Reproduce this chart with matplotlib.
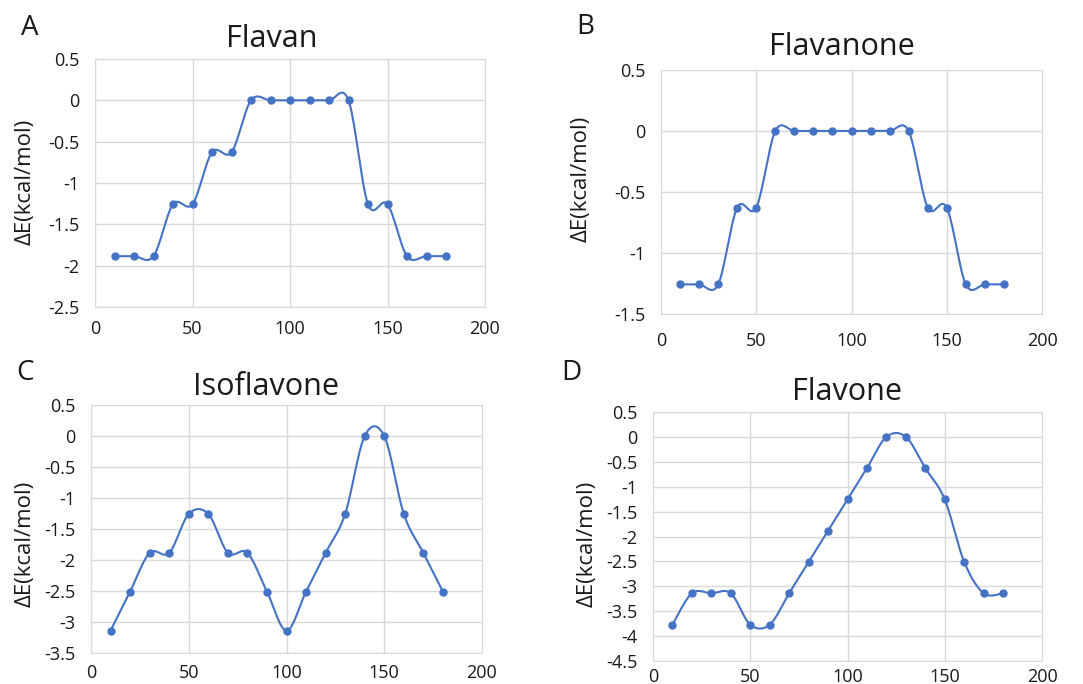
import numpy as np
import matplotlib
matplotlib.use("Agg")
import matplotlib.pyplot as plt
from matplotlib.ticker import FuncFormatter

plt.rcParams["font.family"] = ["Open Sans", "DejaVu Sans"]
plt.rcParams["axes.unicode_minus"] = False

# dihedral angle (deg)
angles = [10, 20, 30, 40, 50, 60, 70, 80, 90, 100, 110, 120, 130, 140, 150, 160, 170, 180]

flavan = [-1.885, -1.885, -1.885, -1.257, -1.257, -0.628, -0.628, 0, 0, 0,
          0, 0, 0, -1.257, -1.257, -1.885, -1.885, -1.885]
flavanone = [-1.257, -1.257, -1.257, -0.628, -0.628, 0, 0, 0, 0, 0,
             0, 0, 0, -0.628, -0.628, -1.257, -1.257, -1.257]
isoflavone = [-3.14, -2.51, -1.885, -1.885, -1.257, -1.257, -1.885, -1.885, -2.51, -3.14,
              -2.51, -1.885, -1.257, 0, 0, -1.257, -1.885, -2.51]
flavone = [-3.77, -3.14, -3.14, -3.14, -3.77, -3.77, -3.14, -2.51, -1.885, -1.257,
           -0.628, 0, 0, -0.628, -1.257, -2.51, -3.14, -3.14]

titles = ["Flavan", "Flavanone", "Isoflavone", "Flavone"]
letters = ["A", "B", "C", "D"]
series = [flavan, flavanone, isoflavone, flavone]
ylims = [(-2.5, 0.5), (-1.5, 0.5), (-3.5, 0.5), (-4.5, 0.5)]

W, H = 1083, 684
# plot areas in pixels: left, top, right, bottom
boxes = [(95, 59, 485, 307), (661, 70, 1042, 314), (91, 405, 482, 653), (653, 412, 1042, 661)]
title_pos = [(272, 39), (842, 47), (266, 387), (847, 392)]
letter_pos = [(30, 28), (585, 27), (25, 373), (571, 373)]
ylabel_pos = [(25, 182), (581, 179), (25, 544), (587, 544)]
xpads = [9, 13, 8, 5]

BLUE = "#4472C4"
TXT = "#1a1a1a"


def smooth(x, y, n=20):
    # Excel-like smoothed line (Bezier through the points)
    x = np.asarray(x, float)
    y = np.asarray(y, float)
    px = np.concatenate([[x[0]], x, [x[-1]]])
    py = np.concatenate([[y[0]], y, [y[-1]]])
    xs, ys = [], []
    t = np.linspace(0, 1, n)
    for i in range(1, len(px) - 2):
        p0 = np.array([px[i], py[i]])
        p3 = np.array([px[i + 1], py[i + 1]])
        p1 = p0 + (np.array([px[i + 1], py[i + 1]]) - np.array([px[i - 1], py[i - 1]])) / 6
        p2 = p3 - (np.array([px[i + 2], py[i + 2]]) - np.array([px[i], py[i]])) / 6
        b = ((1 - t) ** 3)[:, None] * p0 + (3 * (1 - t) ** 2 * t)[:, None] * p1 \
            + (3 * (1 - t) * t ** 2)[:, None] * p2 + (t ** 3)[:, None] * p3
        xs.extend(b[:, 0])
        ys.extend(b[:, 1])
    return xs, ys


fig = plt.figure(figsize=(W / 100, H / 100), dpi=100)

for k in range(4):
    l, t, r, b = boxes[k]
    ax = fig.add_axes([l / W, 1 - b / H, (r - l) / W, (b - t) / H])
    sx, sy = smooth(angles, series[k])
    ax.plot(sx, sy, color=BLUE, lw=1.5, zorder=3)
    ax.plot(angles, series[k], "o", color=BLUE, ms=5, zorder=4)
    ax.set_xlim(0, 200)
    ax.set_ylim(*ylims[k])
    ax.set_xticks([0, 50, 100, 150, 200])
    ax.set_yticks(np.arange(ylims[k][0], ylims[k][1] + 0.01, 0.5))
    ax.yaxis.set_major_formatter(FuncFormatter(lambda v, p: f"{v:g}"))
    ax.grid(color="#d9d9d9", lw=1)
    ax.set_axisbelow(True)
    for s in ax.spines.values():
        s.set_color("#d9d9d9")
    ax.tick_params(length=0, labelsize=13, colors=TXT)
    ax.tick_params(axis="y", pad=11)
    ax.tick_params(axis="x", pad=xpads[k])
    fig.text(ylabel_pos[k][0] / W, 1 - ylabel_pos[k][1] / H, "ΔE(kcal/mol)",
             fontsize=16, rotation=90, ha="center", va="center", color=TXT)
    fig.text(title_pos[k][0] / W, 1 - title_pos[k][1] / H, titles[k],
             fontsize=22, ha="center", va="center", color=TXT)
    fig.text(letter_pos[k][0] / W, 1 - letter_pos[k][1] / H, letters[k],
             fontsize=20, ha="center", va="center", color=TXT)

fig.savefig("out.png", dpi=100, facecolor="white")
